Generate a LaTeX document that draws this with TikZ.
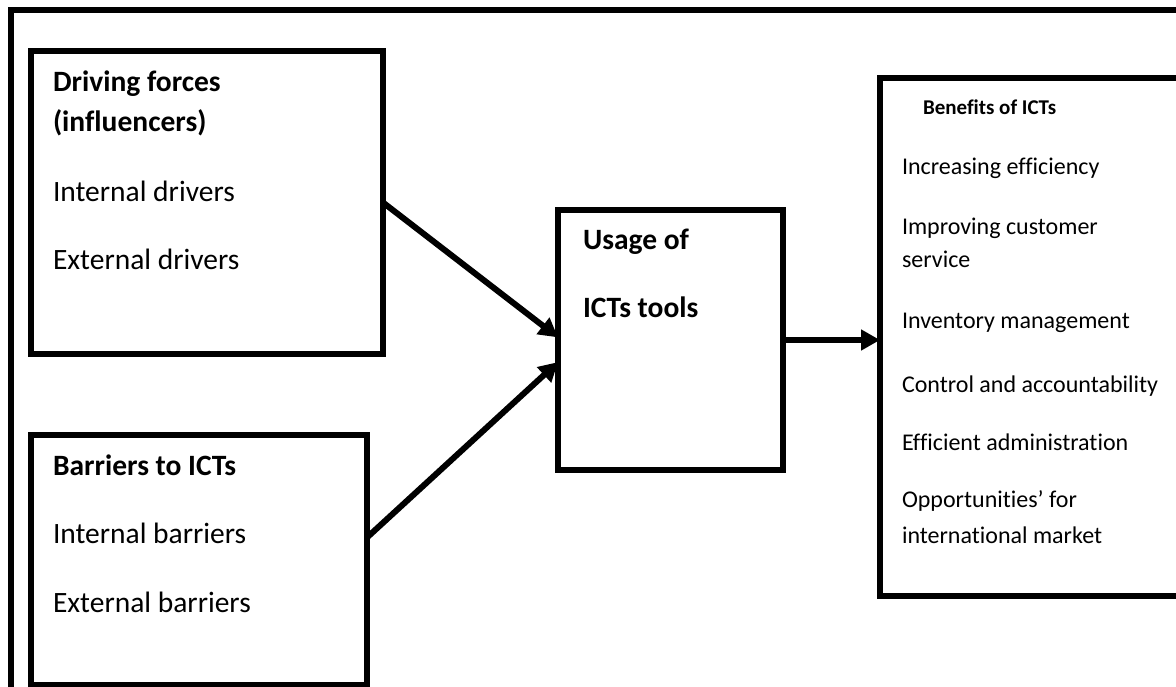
\documentclass[tikz,border=0pt]{standalone}
\usepackage{fontspec}
\setmainfont{Carlito}[Ligatures={NoCommon,NoContextual}]
\usetikzlibrary{arrows.meta,calc}
\tikzset{
  box/.style={draw, line width=6pt, inner sep=0pt, outer sep=0pt, rectangle},
  lbl/.style={anchor=base west, inner sep=0pt, outer sep=0pt, font=\fontsize{29.5}{34}\selectfont},
  hd/.style={lbl, font=\fontsize{29.5}{34}\selectfont\bfseries},
  bl/.style={lbl, font=\fontsize{24}{28}\selectfont},
  bh/.style={lbl, font=\fontsize{21}{24}\selectfont\bfseries},
  arr/.style={line width=6pt, -{Triangle[length=19pt,width=20pt]}}
}
\begin{document}
\begin{tikzpicture}[x=1pt,y=-1pt]
\useasboundingbox (0,0) rectangle (1176,687);
\clip (0,0) rectangle (1176,687);
\fill[white] (0,0) rectangle (1176,687);
% outer frame (clipped at right and bottom)
\draw[line width=6pt] (11,720) -- (11,10) -- (1220,10);
% boxes
\node[box, minimum width=352pt, minimum height=303pt] (b1) at (207,202.5) {};
\node[box, minimum width=336pt, minimum height=250pt] (b2) at (199,560) {};
\node[box, minimum width=225pt, minimum height=260pt] (u) at (670.5,340) {};
\node[box, minimum width=310pt, minimum height=518pt] (ben) at (1035,337) {};
% texts of box 1
\node[hd] (t1a) at (53,92) {Driving forces};
\node[hd] (t1b) at (53,132) {(influencers)};
\node[lbl] (t1c) at (53,202) {Internal drivers};
\node[lbl] (t1d) at (53,270) {External drivers};
% texts of box 2
\node[hd] (t2a) at (53,475) {Barriers to ICTs};
\node[lbl] (t2b) at (53,543) {Internal barriers};
\node[lbl] (t2c) at (53,612) {External barriers};
% usage box
\node[hd] (tua) at (583,250) {Usage of};
\node[hd] (tub) at (583,317) {ICTs tools};
% benefits
\node[bh] (tba) at (923,115) {Benefits of ICTs};
\node[bl] (tbb) at (902,175) {Increasing efficiency};
\node[bl] (tbc) at (902,235) {Improving customer};
\node[bl] (tbd) at (902,268) {service};
\node[bl] (tbe) at (902,328) {Inventory management};
\node[bl] (tbf) at (902,392) {Control and accountability};
\node[bl] (tbg) at (902,450) {Efficient administration};
\node[bl] (tbh) at (902,507) {Opportunities’ for};
\node[bl] (tbi) at (902,543) {international market};
% connectors
\draw[arr] (b1.east) -- ($(u.north west)!0.49!(u.south west)$);
\draw[arr] ($(b2.north east)!0.41!(b2.south east)$) -- ($(u.north west)!0.585!(u.south west)$);
\draw[arr] (u.east) -- (u.east -| ben.west);
\end{tikzpicture}
\end{document}
